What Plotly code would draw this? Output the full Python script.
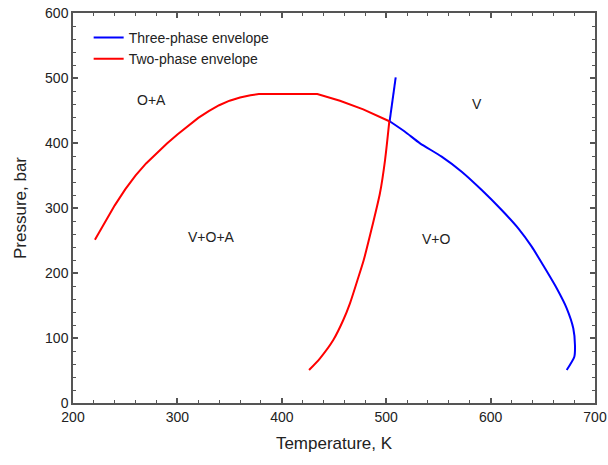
import plotly.graph_objects as go

# Two-phase envelope (red): upper arc and descending branch
two_arc_T = [221.0, 230.0, 240.0, 250.0, 260.0, 270.0, 280.0, 290.0, 300.0, 310.0, 320.0, 330.0,
             340.0, 350.0, 360.0, 370.0, 378.0, 434.0, 455.7, 478.0, 503.0]
two_arc_P = [251.0, 277.1, 304.1, 328.6, 350.1, 368.6, 384.6, 399.1, 413.1, 426.6, 438.6, 449.1,
             458.1, 465.1, 470.1, 473.6, 475.4, 475.4, 465.0, 451.8, 433.5]
two_branch_T = [503.0, 498.9, 494.0, 486.5, 478.5, 472.5, 465.3, 458.9, 449.3, 436.6, 426.1]
two_branch_P = [433.5, 373.8, 322.6, 271.0, 220.0, 189.2, 153.4, 127.7, 96.9, 68.8, 50.8]

# Three-phase envelope (blue): short upper stub and main curve
three_stub_T = [509.1, 503.3]
three_stub_P = [501.0, 433.5]
three_T = [503.3, 518.0, 532.4, 553.1, 572.3, 591.5, 610.6, 626.5, 639.4, 652.1,
           663.3, 672.9, 679.2, 680.8, 680.2, 672.9]
three_P = [433.5, 417.4, 399.5, 379.0, 355.9, 327.7, 296.9, 268.7, 240.5, 207.2,
           176.5, 145.7, 114.9, 89.2, 71.2, 50.8]

region_labels = ["O+A", "V+O+A", "V", "V+O"]
label_T = [275.5, 333.0, 586.7, 548.0]
label_P = [465.5, 255.0, 460.0, 253.0]

FONT = "Liberation Sans, Arial, sans-serif"
BLUE = "#0000ff"
RED = "#ff0000"

fig = go.Figure()
fig.add_trace(go.Scatter(x=three_T, y=three_P, mode="lines", name="Three-phase envelope",
                         legendgroup="three",
                         line=dict(color=BLUE, width=2, shape="spline", smoothing=0.6)))
fig.add_trace(go.Scatter(x=three_stub_T, y=three_stub_P, mode="lines", name="Three-phase envelope",
                         legendgroup="three", showlegend=False,
                         line=dict(color=BLUE, width=2)))
fig.add_trace(go.Scatter(x=two_arc_T, y=two_arc_P, mode="lines", name="Two-phase envelope",
                         legendgroup="two",
                         line=dict(color=RED, width=2)))
fig.add_trace(go.Scatter(x=two_branch_T, y=two_branch_P, mode="lines", name="Two-phase envelope",
                         legendgroup="two", showlegend=False,
                         line=dict(color=RED, width=2, shape="spline", smoothing=0.7)))

for t, x, y in zip(region_labels, label_T, label_P):
    fig.add_annotation(x=x, y=y, xref="x", yref="y", text=t, showarrow=False,
                       font=dict(family=FONT, size=14, color="#222222"))

axis_common = dict(showline=True, linecolor="#555555", linewidth=1.5, mirror="allticks",
                   ticks="inside", ticklen=5, tickwidth=1.5, tickcolor="#555555",
                   showgrid=False, zeroline=False, automargin=False,
                   tickfont=dict(family=FONT, size=14, color="#222222"),
                   minor=dict(ticks="inside", ticklen=3, tickwidth=1, tickcolor="#555555",
                              dtick=20, showgrid=False))

fig.update_xaxes(range=[200, 700], dtick=100, tick0=200,
                 title=dict(text="Temperature, K", font=dict(family=FONT, size=17, color="#222222"),
                            standoff=14),
                 **axis_common)
fig.update_yaxes(range=[0, 600], dtick=100, tick0=0,
                 title=dict(text="Pressure, bar", font=dict(family=FONT, size=17, color="#222222"),
                            standoff=14),
                 **axis_common)

fig.update_layout(width=608, height=465, margin=dict(l=73, r=13, t=13, b=62),
                  plot_bgcolor="white", paper_bgcolor="white",
                  legend=dict(x=0.03, y=0.977, xanchor="left", yanchor="top",
                              bgcolor="rgba(0,0,0,0)",
                              font=dict(family=FONT, size=14, color="#222222"),
                              tracegroupgap=0, itemwidth=30),
                  showlegend=True)

fig.write_html("out.html")
